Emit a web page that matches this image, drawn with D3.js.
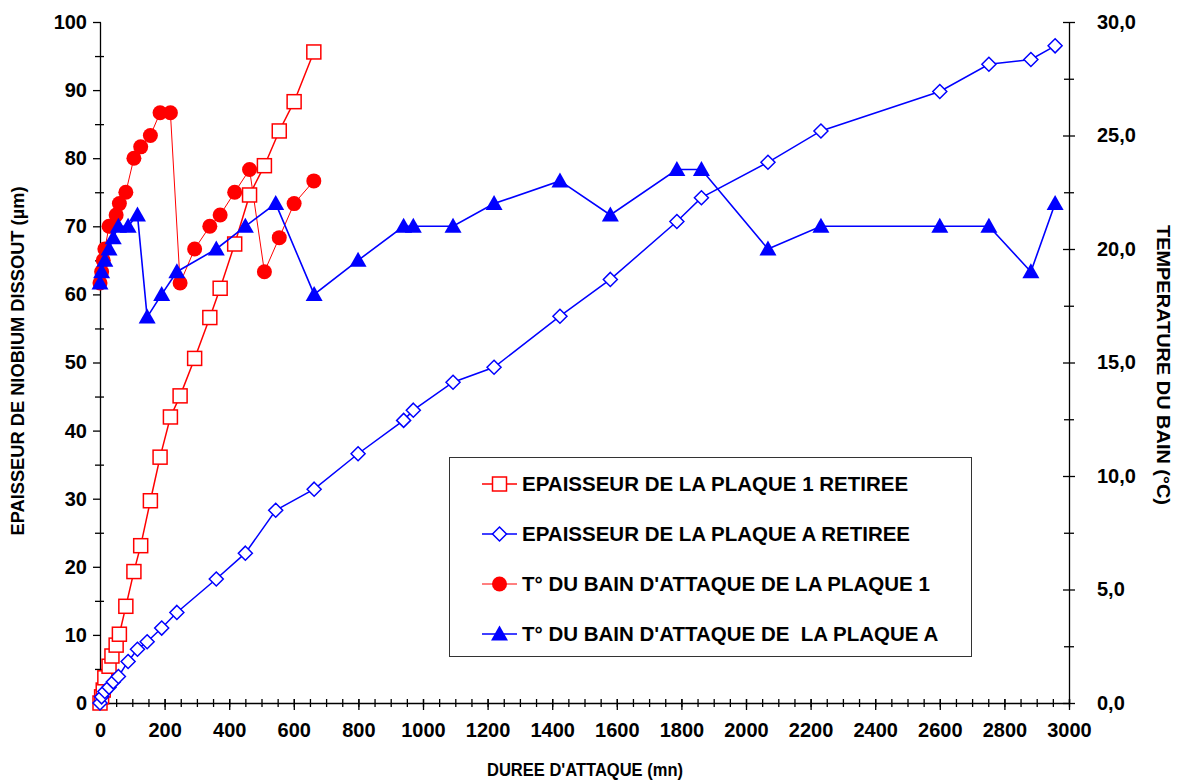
<!DOCTYPE html>
<html>
<head>
<meta charset="utf-8">
<script src="https://cdn.jsdelivr.net/npm/d3@7"></script>
<style>
  html, body { margin: 0; padding: 0; background: #fff; }
  svg { display: block; font-family: "Liberation Sans", Arial, sans-serif; font-weight: bold; }
</style>
</head>
<body>
<svg id="chart" width="1177" height="780"></svg>
<script>
// Plaque 1: attack time (mn), dissolved thickness (µm), bath temperature (°C)
const time1 = [0, 5, 10, 15, 28, 37, 50, 60, 80, 105, 126, 156, 186, 218, 248, 293, 340, 372, 417, 463, 509, 555, 601, 662];
const thick1 = [0, 0.9, 1.9, 3.7, 5.4, 6.9, 8.5, 10.1, 14.2, 19.3, 23.1, 29.7, 36.1, 42.0, 45.1, 50.6, 56.6, 60.9, 67.4, 74.6, 78.9, 84.0, 88.3, 95.6];
const temp1 = [18.5, 19.0, 19.5, 20.0, 21.0, 21.0, 21.5, 22.0, 22.5, 24.0, 24.5, 25.0, 26.0, 26.0, 18.5, 20.0, 21.0, 21.5, 22.5, 23.5, 19.0, 20.5, 22.0, 23.0];

// Plaque A: attack time (mn), dissolved thickness (µm), bath temperature (°C)
const timeA = [0, 5, 15, 28, 41, 57, 87, 116, 146, 191, 238, 360, 450, 544, 663, 799, 940, 970, 1093, 1220, 1424, 1580, 1786, 1862, 2068, 2232, 2600, 2752, 2882, 2957];
const thickA = [0, 0.9, 1.7, 2.3, 3.1, 3.9, 6.1, 7.9, 9.0, 11.0, 13.3, 18.2, 22.0, 28.3, 31.4, 36.6, 41.5, 43.0, 47.1, 49.3, 56.8, 62.2, 70.7, 74.2, 79.4, 84.0, 89.8, 93.8, 94.5, 96.5];
const tempA = [18.5, 19.0, 19.5, 20.0, 20.5, 21.0, 21.0, 21.5, 17.0, 18.0, 19.0, 20.0, 21.0, 22.0, 18.0, 19.5, 21.0, 21.0, 21.0, 22.0, 23.0, 21.5, 23.5, 23.5, 20.0, 21.0, 21.0, 21.0, 19.0, 22.0];

// Axis ticks
const xTicks = d3.range(0, 3001, 200);
const yTicks = d3.range(0, 101, 10);
const tTicks = d3.range(0, 30.01, 5);

const legendLabels = [
  "EPAISSEUR DE LA PLAQUE 1 RETIREE",
  "EPAISSEUR DE LA PLAQUE A RETIREE",
  "T° DU BAIN D'ATTAQUE DE LA PLAQUE 1",
  "T° DU BAIN D'ATTAQUE DE  LA PLAQUE A"
];

const RED = "#ff0000", BLUE = "#0000ff";
const svg = d3.select("#chart");

const plot = { left: 100, right: 1069, top: 22, bottom: 703 };
const x = d3.scaleLinear().domain([0, 3000]).range([plot.left, plot.right]);
const y = d3.scaleLinear().domain([0, 100]).range([plot.bottom, plot.top]);
const yT = d3.scaleLinear().domain([0, 30]).range([plot.bottom, plot.top]);

const tickFont = 20;

// ---- axes ----
function styleAxis(g) {
  g.select(".domain").attr("stroke", "#000").attr("stroke-width", 1.3);
  g.selectAll(".tick line").attr("stroke", "#000").attr("stroke-width", 1.3);
  g.selectAll(".tick text").attr("fill", "#000").attr("font-size", tickFont).attr("font-weight", "bold");
}

// bottom axis: minor ticks every 50, major every 200
const xMinor = svg.append("g").attr("transform", `translate(0,${plot.bottom})`)
  .call(d3.axisBottom(x).tickValues(d3.range(0, 3001, 50)).tickSize(4).tickFormat(""));
xMinor.select(".domain").remove();
xMinor.selectAll(".tick line").attr("y1", -4).attr("stroke", "#000").attr("stroke-width", 1.3);

const xAxis = svg.append("g").attr("transform", `translate(0,${plot.bottom})`)
  .call(d3.axisBottom(x).tickValues(xTicks).tickSize(7).tickSizeOuter(0).tickPadding(13).tickFormat(d3.format("d")));
styleAxis(xAxis);
xAxis.selectAll(".tick line").attr("y1", -4);

// left axis: minor every 5, major every 10
const yMinor = svg.append("g").attr("transform", `translate(${plot.left},0)`)
  .call(d3.axisLeft(y).tickValues(d3.range(5, 100, 10)).tickSize(5).tickFormat(""));
yMinor.select(".domain").remove();
yMinor.selectAll(".tick line").attr("x1", 4).attr("stroke", "#000").attr("stroke-width", 1.3);

const yAxis = svg.append("g").attr("transform", `translate(${plot.left},0)`)
  .call(d3.axisLeft(y).tickValues(yTicks).tickSize(7).tickSizeOuter(0).tickPadding(6).tickFormat(d3.format("d")));
styleAxis(yAxis);
yAxis.selectAll(".tick line").attr("x1", 1);

// right axis: minor every 2.5, major every 5
const tMinor = svg.append("g").attr("transform", `translate(${plot.right},0)`)
  .call(d3.axisRight(yT).tickValues(d3.range(2.5, 30, 5)).tickSize(5).tickFormat(""));
tMinor.select(".domain").remove();
tMinor.selectAll(".tick line").attr("x1", -5).attr("stroke", "#000").attr("stroke-width", 1.3);

const fmtT = v => d3.format(".1f")(v).replace(".", ",");
const tAxis = svg.append("g").attr("transform", `translate(${plot.right},0)`)
  .call(d3.axisRight(yT).tickValues(tTicks).tickSize(6).tickSizeOuter(0).tickPadding(22).tickFormat(fmtT));
styleAxis(tAxis);
tAxis.selectAll(".tick line").attr("x1", -6);

// axis titles
svg.append("text")
  .attr("transform", `translate(24,361) rotate(-90)`)
  .attr("text-anchor", "middle").attr("font-size", 17.5).attr("fill", "#000")
  .attr("textLength", 349).attr("lengthAdjust", "spacingAndGlyphs")
  .text("EPAISSEUR DE NIOBIUM DISSOUT (µm)");

svg.append("text")
  .attr("transform", `translate(1157,365) rotate(90)`)
  .attr("text-anchor", "middle").attr("font-size", 17.5).attr("fill", "#000")
  .attr("textLength", 280).attr("lengthAdjust", "spacingAndGlyphs")
  .text("TEMPERATURE DU BAIN (°C)");

svg.append("text")
  .attr("x", 585).attr("y", 776)
  .attr("text-anchor", "middle").attr("font-size", 17.5).attr("fill", "#000")
  .attr("textLength", 196).attr("lengthAdjust", "spacingAndGlyphs")
  .text("DUREE D'ATTAQUE (mn)");

// ---- markers ----
const markers = {
  square: (g, color) => g.append("rect").attr("x", -7).attr("y", -7).attr("width", 14).attr("height", 14)
    .attr("fill", "#fff").attr("stroke", color).attr("stroke-width", 1.5),
  diamond: (g, color) => g.append("path").attr("d", "M0,-7L7,0L0,7L-7,0Z")
    .attr("fill", "#fff").attr("stroke", color).attr("stroke-width", 1.5),
  circle: (g, color) => g.append("circle").attr("r", 7.5).attr("fill", color),
  triangle: (g, color) => g.append("path").attr("d", "M0,-8.5L8.5,6.5L-8.5,6.5Z").attr("fill", color)
};

const series = [
  { xs: time1, ys: thick1, scale: y, color: RED, shape: "square", width: 1.5 },
  { xs: timeA, ys: thickA, scale: y, color: BLUE, shape: "diamond", width: 1.5 },
  { xs: time1, ys: temp1, scale: yT, color: RED, shape: "circle", width: 1 },
  { xs: timeA, ys: tempA, scale: yT, color: BLUE, shape: "triangle", width: 1.6 }
];

const drawOrder = [2, 0, 1, 3];
drawOrder.forEach(i => {
  const s = series[i];
  const pts = s.xs.map((t, k) => [x(t), s.scale(s.ys[k])]);
  const g = svg.append("g");
  g.append("path").attr("d", d3.line()(pts))
    .attr("fill", "none").attr("stroke", s.color).attr("stroke-width", s.width);
  pts.forEach(p => {
    const m = g.append("g").attr("transform", `translate(${p[0]},${p[1]})`);
    markers[s.shape](m, s.color);
  });
});

// ---- legend ----
const legend = svg.append("g");
legend.append("rect").attr("x", 449.5).attr("y", 457.5).attr("width", 522).attr("height", 199)
  .attr("fill", "#fff").attr("stroke", "#333").attr("stroke-width", 1);

series.forEach((s, i) => {
  const ly = 484 + i * 50;
  const row = legend.append("g").attr("transform", `translate(0,${ly})`);
  row.append("line").attr("x1", 482).attr("x2", 517).attr("y1", 0).attr("y2", 0)
    .attr("stroke", s.color).attr("stroke-width", s.width);
  markers[s.shape](row.append("g").attr("transform", "translate(499.5,0)"), s.color);
  row.append("text").attr("x", 522).attr("y", 0).attr("dy", "0.35em")
    .attr("font-size", 20.5).attr("fill", "#000")
    .style("white-space", "pre")
    .text(legendLabels[i]);
});
</script>
</body>
</html>
